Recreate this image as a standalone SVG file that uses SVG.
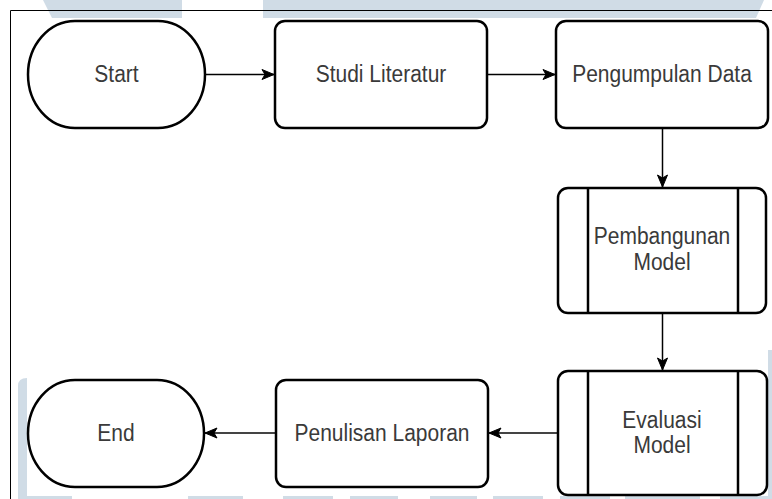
<svg xmlns="http://www.w3.org/2000/svg" width="772" height="499" viewBox="0 0 772 499">
  <defs>
    <style>
      .wm { fill: #d0dce6; }
      .node { fill: #ffffff; stroke: #000000; stroke-width: 2.5; }
      .div { stroke: #000000; stroke-width: 2.5; fill: none; }
      .lbl { font-family: "Liberation Sans", Arial, Helvetica, sans-serif; font-size: 21px; fill: #3a3a3a; text-anchor: middle; }
      .edge { stroke: #000000; stroke-width: 1.5; fill: none; marker-end: url(#arrow); }
      .edge2 { stroke: #444444; stroke-width: 2; fill: none; marker-end: url(#arrow); }
    </style>
    <marker id="arrow" markerUnits="userSpaceOnUse" markerWidth="13" markerHeight="11" refX="12" refY="5" orient="auto" overflow="visible">
      <path d="M0,0 L12,5 L0,10 L3,5 Z" fill="#000000" stroke="#000000" stroke-width="1"/>
    </marker>
  </defs>

  <rect x="0" y="0" width="772" height="499" fill="#ffffff"/>

  <!-- watermark fragments -->
  <g id="watermark">
    <polygon class="wm" points="43,0 182,0 182,18 52,18"/>
    <polygon class="wm" points="263,0 764,0 756,18 263,18"/>
    <path class="wm" d="M18,499 L18,386 Q18,378 27,378 L27,499 Z"/>
    <rect class="wm" x="27" y="496" width="45" height="3"/>
    <rect class="wm" x="188" y="496" width="55" height="3"/>
    <rect class="wm" x="283" y="496" width="50" height="3"/>
    <rect class="wm" x="350" y="496" width="48" height="3"/>
    <rect class="wm" x="430" y="496" width="47" height="3"/>
    <rect class="wm" x="493" y="496" width="50" height="3"/>
    <rect class="wm" x="560" y="496" width="50" height="3"/>
    <rect class="wm" x="625" y="496" width="75" height="3"/>
    <rect class="wm" x="720" y="496" width="52" height="3"/>
    <rect class="wm" x="768" y="350" width="4" height="149"/>
  </g>

  <!-- frame -->
  <g id="frame">
    <line x1="10.5" y1="10.5" x2="772" y2="10.5" stroke="#000000" stroke-width="1"/>
    <line x1="10.5" y1="10.5" x2="10.5" y2="499" stroke="#000000" stroke-width="1"/>
  </g>

  <!-- connectors -->
  <g id="connectors">
    <line class="edge" x1="205" y1="74.5" x2="274" y2="74.5"/>
    <line class="edge" x1="487" y1="74.5" x2="555" y2="74.5"/>
    <line class="edge" x1="662.5" y1="128" x2="662.5" y2="187"/>
    <line class="edge" x1="662.5" y1="313" x2="662.5" y2="370"/>
    <line class="edge2" x1="558" y1="433" x2="489" y2="433"/>
    <line class="edge2" x1="276" y1="433" x2="205" y2="433"/>
  </g>

  <g id="start">
    <rect class="node" x="28" y="21" width="177" height="107" rx="47" ry="53.5"/>
    <text class="lbl" x="0" y="0" transform="translate(116.5,82) scale(1,1.12)">Start</text>
  </g>

  <g id="studi-literatur">
    <rect class="node" x="275" y="21" width="212" height="107" rx="10"/>
    <text class="lbl" x="0" y="0" transform="translate(381,82) scale(1,1.12)">Studi Literatur</text>
  </g>

  <g id="pengumpulan-data">
    <rect class="node" x="556" y="21" width="212" height="107" rx="10"/>
    <text class="lbl" x="0" y="0" transform="translate(662,82) scale(1,1.12)">Pengumpulan Data</text>
  </g>

  <g id="pembangunan-model">
    <rect class="node" x="558" y="188" width="208" height="125" rx="10"/>
    <line class="div" x1="588" y1="188" x2="588" y2="313"/>
    <line class="div" x1="738" y1="188" x2="738" y2="313"/>
    <text class="lbl" x="0" y="0" transform="translate(662,244) scale(1,1.12)">Pembangunan</text>
    <text class="lbl" x="0" y="0" transform="translate(662,270) scale(1,1.12)">Model</text>
  </g>

  <g id="evaluasi-model">
    <rect class="node" x="558" y="371" width="209" height="124" rx="10"/>
    <line class="div" x1="588" y1="371" x2="588" y2="495"/>
    <line class="div" x1="738" y1="371" x2="738" y2="495"/>
    <text class="lbl" x="0" y="0" transform="translate(662,428) scale(1,1.12)">Evaluasi</text>
    <text class="lbl" x="0" y="0" transform="translate(662,453) scale(1,1.12)">Model</text>
  </g>

  <g id="penulisan-laporan">
    <rect class="node" x="276" y="380" width="212" height="107" rx="10"/>
    <text class="lbl" x="0" y="0" transform="translate(382,441) scale(1,1.12)">Penulisan Laporan</text>
  </g>

  <g id="end">
    <rect class="node" x="28" y="380" width="176" height="107" rx="47" ry="53.5"/>
    <text class="lbl" x="0" y="0" transform="translate(116,441) scale(1,1.12)">End</text>
  </g>
</svg>
